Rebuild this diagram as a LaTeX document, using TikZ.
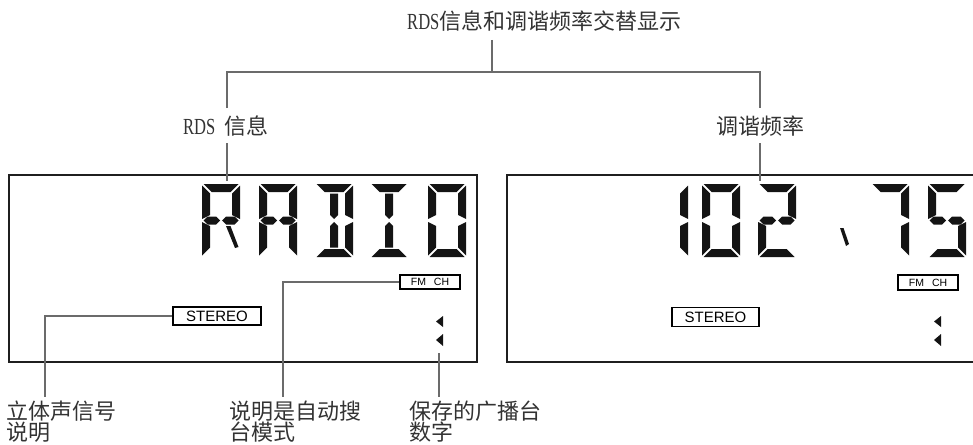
\documentclass[tikz,border=0pt]{standalone}
\usepackage{fontspec}
\setmainfont{Liberation Sans}
\newfontfamily\cjk{Noto Sans CJK SC}
\newfontfamily\rds[FakeStretch=0.72]{Liberation Serif}
\tikzset{
  conn/.style={draw=black!58, line width=1.6pt},
  lcdframe/.style={draw=black!88, line width=2pt},
  lcdbox/.style={draw=black, line width=1.4pt, inner sep=0pt, font=\fontsize{15}{15}\selectfont},
  fmbox/.style={draw=black, line width=1.3pt, inner sep=0pt, font=\fontsize{10.5}{10.5}\selectfont},
  lbl/.style={inner sep=0pt, text=black!80, font=\cjk\fontsize{22}{21}\selectfont},
  segfill/.style={fill=black!92},
}
% 14-segment elements, local coordinates (W=38, H=73, T=8)
\expandafter\def\csname lsega\endcsname{\fill[segfill] (1.5,0)--(36.5,0)--(28.5,8)--(9.5,8)--cycle;}
\expandafter\def\csname lsegd\endcsname{\fill[segfill] (1.5,73)--(36.5,73)--(28.5,65)--(9.5,65)--cycle;}
\expandafter\def\csname lsegf\endcsname{\fill[segfill] (0,1.5)--(8,9.5)--(8,31)--(0,35)--cycle;}
\expandafter\def\csname lsege\endcsname{\fill[segfill] (0,71.5)--(8,63.5)--(8,42)--(0,38)--cycle;}
\expandafter\def\csname lsegb\endcsname{\fill[segfill] (38,1.5)--(30,9.5)--(30,31)--(38,35)--cycle;}
\expandafter\def\csname lsegc\endcsname{\fill[segfill] (38,71.5)--(30,63.5)--(30,42)--(38,38)--cycle;}
\expandafter\def\csname lsegg\endcsname{\fill[segfill] (1.5,36.5)--(5.5,32.5)--(14,32.5)--(18,36.5)--(14,40.5)--(5.5,40.5)--cycle;
  \fill[segfill] (36.5,36.5)--(32.5,32.5)--(24,32.5)--(20,36.5)--(24,40.5)--(32.5,40.5)--cycle;}
\expandafter\def\csname lsegi\endcsname{\fill[segfill] (15,9.5)--(23,9.5)--(23,31)--(19,35)--(15,31)--cycle;}
\expandafter\def\csname lsegl\endcsname{\fill[segfill] (15,63.5)--(23,63.5)--(23,42)--(19,38)--(15,42)--cycle;}
\expandafter\def\csname lsegr\endcsname{\fill[segfill] (24,42)--(28.5,42)--(36.5,63)--(33,64)--cycle;}
\newcommand\lcdchar[3]{\begin{scope}[shift={(#1,#2)}]\foreach \s in {#3}{\csname lseg\s\endcsname}\end{scope}}
\begin{document}
\begin{tikzpicture}[x=1pt,y=-1pt]
\useasboundingbox (0,0) rectangle (973,444);
% frames
\draw[lcdframe] (9,175) rectangle (477,362);
\draw[lcdframe] (974,175) -- (507,175) -- (507,362) -- (974,362);
% titles
\node[lbl, anchor=base west] (title) at (407,30) {{\rds\fontsize{23}{23}\selectfont RDS}信息和调谐频率交替显示};
\node[lbl, anchor=base west] (rdsl) at (183,134) {{\rds\fontsize{23}{23}\selectfont RDS}\hspace{9pt}信息};
\node[lbl, anchor=base west] (freql) at (716,134) {调谐频率};
\coordinate (t0) at (492,40);
\coordinate (tj) at (492,72);
\coordinate (la) at (227,108);
\coordinate (ra) at (760,108);
\coordinate (lb) at (227,143);
\coordinate (lc) at (227,181);
\coordinate (rb) at (760,143);
\coordinate (rc) at (760,181);
\draw[conn] (t0) -- (tj);
\draw[conn] (la) |- (tj) -| (ra);
\draw[conn] (lb) -- (lc);
\draw[conn] (rb) -- (rc);
% left display RADIO
\lcdchar{202}{184}{a,b,f,g,e,r}
\lcdchar{259}{184}{a,b,f,g,e,c}
\lcdchar{315}{184}{a,b,c,d,i,l}
\lcdchar{370}{184}{a,d,i,l}
\lcdchar{428}{184}{a,b,c,d,e,f}
% right display 102.75
\lcdchar{650}{184}{b,c}
\lcdchar{702}{184}{a,b,c,d,e,f}
\lcdchar{758}{184}{a,b,g,e,d}
\fill[segfill] (840,228)--(843.5,228)--(849,244)--(846,246)--cycle;
\lcdchar{871}{184}{a,b,c}
\lcdchar{928}{184}{a,f,g,c,d}
% indicators
\node[lcdbox, minimum width=88pt, minimum height=18pt] (st1) at (217,316) {STEREO};
\node[lcdbox, minimum width=87pt, minimum height=19pt] (st2) at (715.5,317) {STEREO};
\node[fmbox, minimum width=60pt, minimum height=14pt] (fm1) at (430,282) {FM\hspace{8pt}CH};
\node[fmbox, minimum width=60pt, minimum height=15pt] (fm2) at (928,282.5) {FM\hspace{8pt}CH};
\fill[segfill] (443,316)--(443,327)--(436,321.5)--cycle;
\fill[segfill] (443,334)--(443,346)--(436,340)--cycle;
\fill[segfill] (941,316)--(941,327)--(934,321.5)--cycle;
\fill[segfill] (941,334)--(941,346)--(934,340)--cycle;
% bottom labels
\coordinate (c1) at (45,397);
\coordinate (c2) at (283,397);
\coordinate (c3t) at (439,353);
\coordinate (c3) at (439,397);
\draw[conn] (st1.west) -| (c1);
\draw[conn] (fm1.west) -| (c2);
\draw[conn] (c3t) -- (c3);
\node[lbl, anchor=north west, align=left] (b1) at (6,401) {立体声信号\\说明};
\node[lbl, anchor=north west, align=left] (b2) at (229,401) {说明是自动搜\\台模式};
\node[lbl, anchor=north west, align=left] (b3) at (409,401) {保存的广播台\\数字};
\end{tikzpicture}
\end{document}
